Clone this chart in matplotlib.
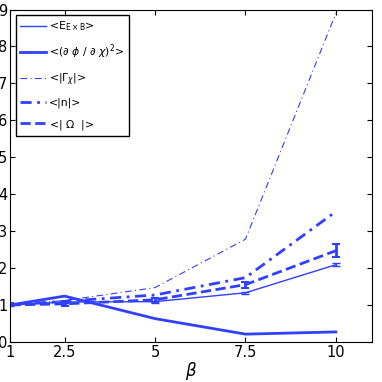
import numpy as np
import matplotlib.pyplot as plt

beta = [1, 2.5, 5, 7.5, 10]
e_exb = [1.0, 1.08, 1.09, 1.33, 2.09]
e_exb_err = [0.02, 0.02, 0.03, 0.03, 0.04]
dphi = [1.0, 1.24, 0.63, 0.21, 0.27]
gamma = [1.0, 1.12, 1.47, 2.78, 8.9]
dens = [1.0, 1.1, 1.27, 1.74, 3.53]
omega = [1.0, 1.03, 1.14, 1.55, 2.47]
omega_err = [0.04, 0.05, 0.05, 0.08, 0.17]

labels = [r'<E$_{\mathregular{E\times B}}$>',
          r'<($\partial\ \phi\ /\ \partial\ \chi$)$^2$>',
          r'<|$\Gamma_\chi$|>',
          '<|n|>',
          r'<| $\Omega$  |>']

color = '#3040ff'

fig = plt.figure(figsize=(3.82, 3.82), dpi=100)
ax = fig.add_axes([0.027, 0.105, 0.947, 0.87])

styles = [(1, '-'), (2, '-'), (0.8, (0, (6, 3, 1, 3))), (2, (0, (4, 2, 1, 2))), (2, '--')]
series = [e_exb, dphi, gamma, dens, omega]
handles = []
for (lw, ls), y, lab in zip(styles, series, labels):
    h, = ax.plot(beta, y, color=color, lw=lw, ls=ls, label=lab)
    handles.append(h)

ax.errorbar(beta, e_exb, yerr=e_exb_err, fmt='none', ecolor=color, elinewidth=1, capsize=3)
ax.errorbar(beta, omega, yerr=omega_err, fmt='none', ecolor=color, elinewidth=2,
            capsize=3, capthick=1.5)

ax.set_xlim(1, 11)
ax.set_ylim(0, 9)
ax.set_xticks([1, 2.5, 5, 7.5, 10])
ax.set_xticklabels(['1', '2.5', '5', '7.5', '10'])
ax.set_yticks(range(10))
ax.tick_params(direction='in', top=True, right=True, labelsize=10.5, pad=2)
for s in ax.spines.values():
    s.set_linewidth(0.8)
ax.set_xlabel(r'$\beta$', fontsize=12, labelpad=0)

ax.legend(handles=handles, loc='upper left', fontsize=7.8, frameon=True, fancybox=False,
          edgecolor='black', framealpha=1, handlelength=2.4, handletextpad=0.3,
          borderaxespad=0.5, labelspacing=0.9, borderpad=0.4)

plt.savefig('out.png', dpi=100)
